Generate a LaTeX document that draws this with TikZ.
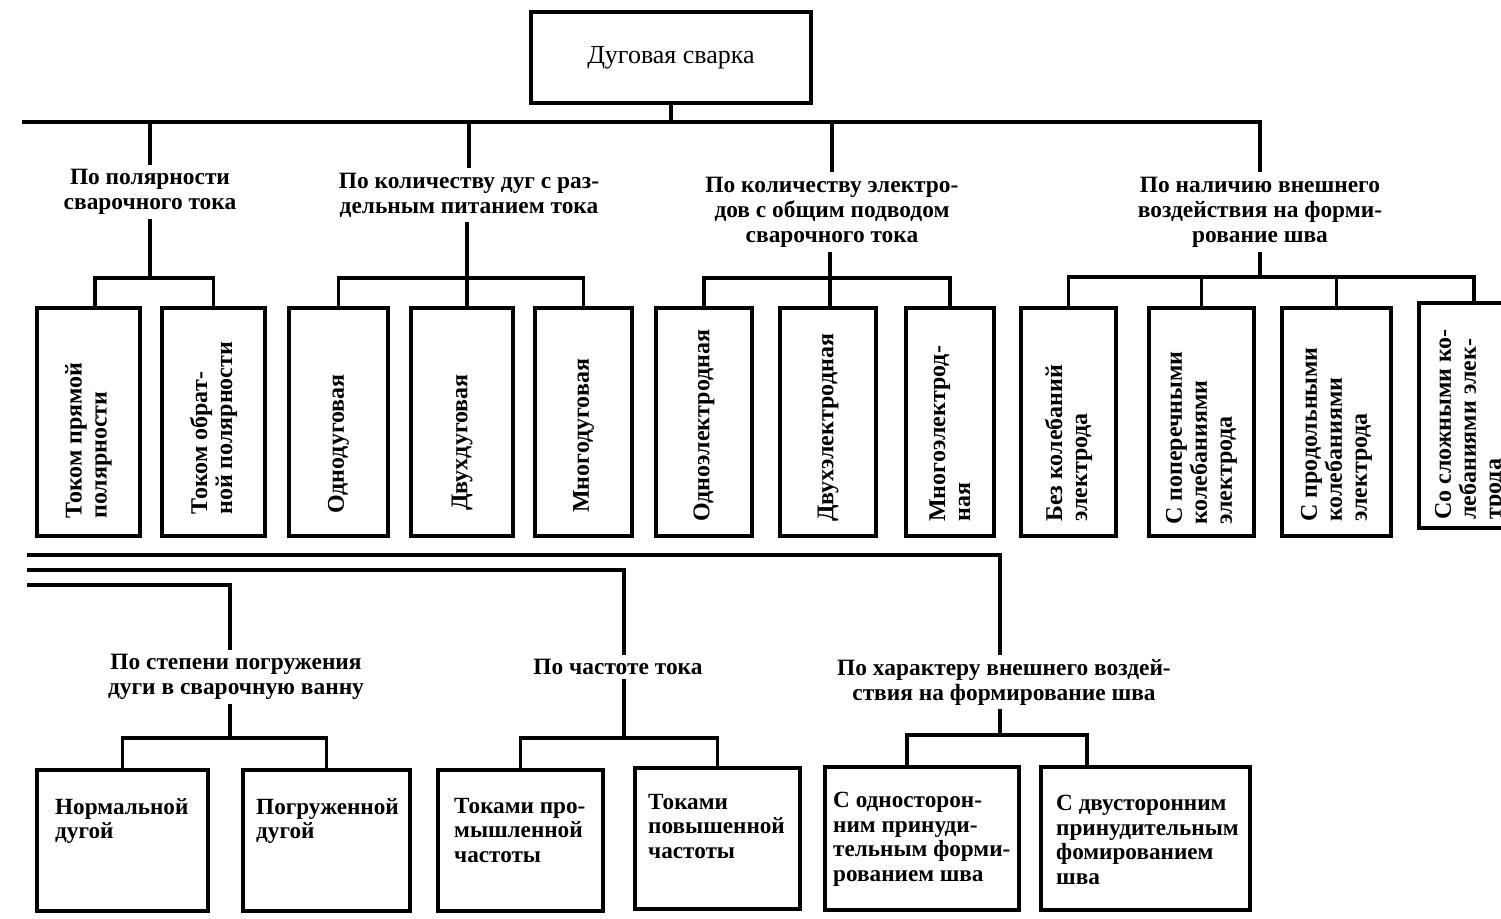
\documentclass[tikz,border=0pt]{standalone}
\usepackage{fontspec}
\setmainfont{Liberation Serif}
\usetikzlibrary{fit,calc}
\begin{document}
\begin{tikzpicture}[x=0.5pt,y=-0.5pt,
  box/.style={draw,line width=2.2pt,inner sep=0pt},
  ln/.style={line width=1.8pt},
  ttl/.style={font=\fontsize{13}{14}\selectfont,inner sep=0pt},
  lab/.style={font=\bfseries\fontsize{11.7}{12.5}\selectfont,align=center,inner sep=2pt},
  vt/.style={rotate=90,anchor=west,font=\bfseries\fontsize{12}{12.5}\selectfont,align=left,inner sep=0pt},
  bt/.style={anchor=north west,font=\bfseries\fontsize{11.6}{12.3}\selectfont,align=left,inner sep=0pt}]
\useasboundingbox (0,0) rectangle (1501,919);
\clip (0,0) rectangle (1501,919);

% title
\node[box,fit={(531,12) (811,103)}] (top) {};
\node[ttl] (toptxt) at (top.center) {Дуговая сварка};

% first-level bus
\coordinate (busL) at (22,122);
\coordinate (busR) at (1260,122);

% category labels (top)
\node[lab] (c1) at (150,192) {По полярности\\сварочного тока};
\node[lab] (c2) at (469,195) {По количеству дуг с раз-\\дельным питанием тока};
\node[lab] (c3) at (832,212) {По количеству электро-\\дов с общим подводом\\сварочного тока};
\node[lab] (c4) at (1260,212) {По наличию внешнего\\воздействия на форми-\\рование шва};

% row 1 boxes
\node[box,fit={(37,308) (140,536)}] (b1) {};
\node[box,fit={(162,308) (265,536)}] (b2) {};
\node[box,fit={(289,308) (388,536)}] (b3) {};
\node[box,fit={(411,308) (513,536)}] (b4) {};
\node[box,fit={(535,308) (632,536)}] (b5) {};
\node[box,fit={(656,308) (752,536)}] (b6) {};
\node[box,fit={(780,308) (876,536)}] (b7) {};
\node[box,fit={(906,308) (994,536)}] (b8) {};
\node[box,fit={(1021,308) (1116,536)}] (b9) {};
\node[box,fit={(1149,308) (1254,536)}] (b10) {};
\node[box,fit={(1282,308) (1391,536)}] (b11) {};
\node[box,fit={(1419,303) (1522,528)}] (b12) {};

\node[vt] (t1) at ($(b1.south)+(0,-19)$) {Током прямой\\полярности};
\node[vt] (t2) at ($(b2.south)+(0,-23)$) {Током обрат-\\ной полярности};
\node[vt] (t3) at ($(b3.south)+(0,-24)$) {Однодуговая};
\node[vt] (t4) at ($(b4.south)+(0,-27)$) {Двухдуговая};
\node[vt] (t5) at ($(b5.south)+(0,-25)$) {Многодуговая};
\node[vt] (t6) at ($(b6.south)+(0,-16)$) {Одноэлектродная};
\node[vt] (t7) at ($(b7.south)+(0,-16)$) {Двухэлектродная};
\node[vt] (t8) at ($(b8.south)+(0,-16)$) {Многоэлектрод-\\ная};
\node[vt] (t9) at ($(b9.south)+(0,-16)$) {Без колебаний\\электрода};
\node[vt] (t10) at ($(b10.south)+(0,-13)$) {С поперечными\\колебаниями\\электрода};
\node[vt] (t11) at ($(b11.south)+(0,-16)$) {С продольными\\колебаниями\\электрода};
\node[vt] (t12) at ($(b12.south)+(0,-10)$) {Со сложными ко-\\лебаниями элек-\\трода};

% top connectors
\draw[ln] (busL) -- (busR) -- (c4.north);
\draw[ln] (top.south) -- (top.south |- busL);
\draw[ln] (c1.north |- busL) -- (c1.north);
\draw[ln] (c2.north |- busL) -- (c2.north);
\draw[ln] (c3.north |- busL) -- (c3.north);

\coordinate (s1) at (150,278);
\coordinate (s2) at (467,278);
\coordinate (s3) at (830,278);
\coordinate (s4) at (1260,277);
\draw[ln] (c1.south) -- (s1);
\draw[ln] (c2.south -| s2) -- (s2);
\draw[ln] (c3.south -| s3) -- (s3);
\draw[ln] (c4.south) -- (s4);

\coordinate (d1) at (95,278);
\draw[ln] (d1 |- b1.north) -- (d1) -- (b2.north |- s1) -- (b2.north);
\draw[ln] (b3.north) -- (b3.north |- s2) -- (b5.north |- s2) -- (b5.north);
\draw[ln] (s2) -- (s2 |- b4.north);
\draw[ln] (b6.north) -- (b6.north |- s3) -- (b8.north |- s3) -- (b8.north);
\draw[ln] (s3) -- (s3 |- b7.north);
\coordinate (d12) at (1474,277);
\draw[ln] (b9.north) -- (b9.north |- s4) -- (d12) -- (d12 |- b12.north);
\draw[ln] (b10.north |- s4) -- (b10.north);
\draw[ln] (b11.north |- s4) -- (b11.north);

% bottom part
\node[lab] (c5) at (236,677) {По степени погружения\\дуги в сварочную ванну};
\node[lab] (c6) at (618,667) {По частоте тока};
\node[lab] (c7) at (1004,682) {По характеру внешнего воздей-\\ствия на формирование шва};

\coordinate (l1) at (27,555);
\coordinate (l2) at (27,570);
\coordinate (l3) at (27,585);
\coordinate (v1) at (1000,555);
\coordinate (v2) at (624,570);
\coordinate (v3) at (230,585);
\draw[ln] (l1) -- (v1) -- (v1 |- c7.north);
\draw[ln] (l2) -- (v2) -- (v2 |- c6.north);
\draw[ln] (l3) -- (v3) -- (v3 |- c5.north);

\node[box,fit={(37,770) (208,911)}] (b13) {};
\node[box,fit={(243,770) (410,911)}] (b14) {};
\node[box,fit={(438,770) (603,911)}] (b15) {};
\node[box,fit={(635,768) (800,909)}] (b16) {};
\node[box,fit={(825,767) (1019,910)}] (b17) {};
\node[box,fit={(1041,767) (1250,910)}] (b18) {};

\node[bt] (t13) at ($(b13.north west)+(20,30)$) {Нормальной\\дугой};
\node[bt] (t14) at ($(b14.north west)+(15,30)$) {Погруженной\\дугой};
\node[bt] (t15) at ($(b15.north west)+(18,30)$) {Токами про-\\мышленной\\частоты};
\node[bt] (t16) at ($(b16.north west)+(15,28)$) {Токами\\повышенной\\частоты};
\node[bt] (t17) at ($(b17.north west)+(10,27)$) {С односторон-\\ним принуди-\\тельным форми-\\рованием шва};
\node[bt] (t18) at ($(b18.north west)+(17,30)$) {С двусторонним\\принудительным\\фомированием\\шва};

\coordinate (s5) at (230,738);
\coordinate (s6) at (624,738);
\coordinate (s7) at (1000,735);
\draw[ln] (c5.south -| s5) -- (s5);
\draw[ln] (c6.south -| s6) -- (s6);
\draw[ln] (c7.south -| s7) -- (s7);
\draw[ln] (b13.north) -- (b13.north |- s5) -- (b14.north |- s5) -- (b14.north);
\draw[ln] (b15.north) -- (b15.north |- s6) -- (b16.north |- s6) -- (b16.north);
\coordinate (d17) at (907,735);
\coordinate (d18) at (1087,735);
\draw[ln] (d17 |- b17.north) -- (d17) -- (d18) -- (d18 |- b18.north);
\end{tikzpicture}
\end{document}
